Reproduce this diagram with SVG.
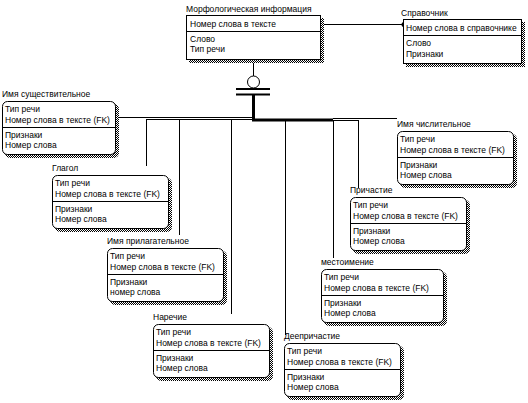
<svg xmlns="http://www.w3.org/2000/svg" width="528" height="403" viewBox="0 0 528 403">
<defs>
<pattern id="hatch" width="2" height="2" patternUnits="userSpaceOnUse">
<rect width="2" height="2" fill="#fff"/>
<rect width="1" height="1" fill="#000"/>
<rect x="1" y="1" width="1" height="1" fill="#000"/>
</pattern>
</defs>
<style>
text{font-family:"Liberation Sans",Arial,sans-serif;font-size:8.5px;fill:#000}
.box{fill:#fff;stroke:#000;stroke-width:1}
.sh{fill:url(#hatch)}
.ln{stroke:#000;stroke-width:1;fill:none}
.thick{stroke:#000;stroke-width:3;fill:none}
</style>
<rect width="528" height="403" fill="#fff"/>
<g id="connectors">
<line class="ln" x1="321" y1="24.5" x2="403" y2="24.5"/>
<circle cx="321" cy="24.5" r="2" fill="#000"/>
<circle cx="404" cy="24.5" r="2.5" fill="#000"/>
<line class="ln" x1="253.5" y1="60" x2="253.5" y2="76"/>
<circle cx="253.5" cy="82" r="6" fill="#fff" stroke="#000"/>
<line x1="236" y1="89" x2="270" y2="89" stroke="#000" stroke-width="2"/>
<line x1="236" y1="94.5" x2="270" y2="94.5" stroke="#000" stroke-width="2"/>
<line class="thick" x1="253.5" y1="95" x2="253.5" y2="121"/>
<line class="ln" x1="116" y1="117.5" x2="254" y2="117.5"/>
<line class="ln" x1="146" y1="119.5" x2="254" y2="119.5"/>
<line class="thick" x1="252" y1="120" x2="333" y2="120"/>
<line class="ln" x1="333" y1="118.5" x2="397" y2="118.5"/>
<line class="ln" x1="333" y1="120.5" x2="359" y2="120.5"/>
<line class="ln" x1="146.5" y1="119.5" x2="146.5" y2="166"/>
<line class="ln" x1="179.5" y1="119.5" x2="179.5" y2="235"/>
<line class="ln" x1="231.5" y1="119.5" x2="231.5" y2="314"/>
<line class="ln" x1="285.5" y1="120" x2="285.5" y2="335"/>
<line class="ln" x1="333.5" y1="120" x2="333.5" y2="258"/>
<line class="ln" x1="358.5" y1="120" x2="358.5" y2="188"/>
</g>
<g id="morph">
<text x="186" y="12">Морфологическая информация</text>
<rect class="sh" x="189" y="18" width="135" height="45"/>
<rect class="box" x="186.5" y="15.5" width="134" height="44"/>
<line class="ln" x1="186.5" y1="31.5" x2="320.5" y2="31.5"/>
<text x="190" y="27">Номер слова в тексте</text>
<text x="190" y="42">Слово</text>
<text x="190" y="52">Тип речи</text>
</g>
<g id="spravochnik">
<text x="401" y="16">Справочник</text>
<rect class="sh" x="406" y="22" width="119" height="45"/>
<rect class="box" x="403.5" y="19.5" width="118" height="44"/>
<line class="ln" x1="403.5" y1="35.5" x2="521.5" y2="35.5"/>
<text x="406" y="31">Номер слова в справочнике</text>
<text x="406" y="46">Слово</text>
<text x="406" y="57">Признаки</text>
</g>
<g id="noun" transform="translate(2,101)">
<text x="0" y="-4">Имя существительное</text>
<rect class="sh" x="3" y="3" width="114" height="54" rx="5"/>
<rect class="box" x="0.5" y="0.5" width="113" height="53" rx="5"/>
<line class="ln" x1="0.5" y1="26.5" x2="113.5" y2="26.5"/>
<text x="3" y="11">Тип речи</text>
<text x="3" y="21.5">Номер слова в тексте (FK)</text>
<text x="3" y="36.5">Признаки</text>
<text x="3" y="47">Номер слова</text>
</g>
<g id="numeral" transform="translate(397,131)">
<text x="0" y="-4">Имя числительное</text>
<rect class="sh" x="3" y="3" width="117" height="54" rx="5"/>
<rect class="box" x="0.5" y="0.5" width="116" height="53" rx="5"/>
<line class="ln" x1="0.5" y1="26.5" x2="116.5" y2="26.5"/>
<text x="3" y="11">Тип речи</text>
<text x="3" y="21.5">Номер слова в тексте (FK)</text>
<text x="3" y="36.5">Признаки</text>
<text x="3" y="47">Номер слова</text>
</g>
<g id="verb" transform="translate(52,175)">
<text x="0" y="-4">Глагол</text>
<rect class="sh" x="3" y="3" width="117" height="54" rx="5"/>
<rect class="box" x="0.5" y="0.5" width="116" height="53" rx="5"/>
<line class="ln" x1="0.5" y1="26.5" x2="116.5" y2="26.5"/>
<text x="3" y="11">Тип речи</text>
<text x="3" y="21.5">Номер слова в тексте (FK)</text>
<text x="3" y="36.5">Признаки</text>
<text x="3" y="47">Номер слова</text>
</g>
<g id="participle" transform="translate(350,197)">
<text x="0" y="-4">Причастие</text>
<rect class="sh" x="3" y="3" width="117" height="54" rx="5"/>
<rect class="box" x="0.5" y="0.5" width="116" height="53" rx="5"/>
<line class="ln" x1="0.5" y1="26.5" x2="116.5" y2="26.5"/>
<text x="3" y="11">Тип речи</text>
<text x="3" y="21.5">Номер слова в тексте (FK)</text>
<text x="3" y="36.5">Признаки</text>
<text x="3" y="47">Номер слова</text>
</g>
<g id="adjective" transform="translate(107,248)">
<text x="0" y="-4">Имя прилагательное</text>
<rect class="sh" x="3" y="3" width="117" height="54" rx="5"/>
<rect class="box" x="0.5" y="0.5" width="116" height="53" rx="5"/>
<line class="ln" x1="0.5" y1="26.5" x2="116.5" y2="26.5"/>
<text x="3" y="11">Тип речи</text>
<text x="3" y="21.5">Номер слова в тексте (FK)</text>
<text x="3" y="36.5">Признаки</text>
<text x="3" y="47">номер слова</text>
</g>
<g id="pronoun" transform="translate(321,269)">
<text x="0" y="-4">местоимение</text>
<rect class="sh" x="3" y="3" width="123" height="54" rx="5"/>
<rect class="box" x="0.5" y="0.5" width="122" height="53" rx="5"/>
<line class="ln" x1="0.5" y1="26.5" x2="122.5" y2="26.5"/>
<text x="3" y="11">Тип речи</text>
<text x="3" y="21.5">Номер слова в тексте (FK)</text>
<text x="3" y="36.5">Признаки</text>
<text x="3" y="47">Номер слова</text>
</g>
<g id="adverb" transform="translate(153,324)">
<text x="0" y="-4">Наречие</text>
<rect class="sh" x="3" y="3" width="117" height="54" rx="5"/>
<rect class="box" x="0.5" y="0.5" width="116" height="53" rx="5"/>
<line class="ln" x1="0.5" y1="26.5" x2="116.5" y2="26.5"/>
<text x="3" y="11">Тип речи</text>
<text x="3" y="21.5">Номер слова в тексте (FK)</text>
<text x="3" y="36.5">Признаки</text>
<text x="3" y="47">Номер слова</text>
</g>
<g id="gerund" transform="translate(284,343)">
<text x="0" y="-4">Деепричастие</text>
<rect class="sh" x="3" y="3" width="117" height="54" rx="5"/>
<rect class="box" x="0.5" y="0.5" width="116" height="53" rx="5"/>
<line class="ln" x1="0.5" y1="26.5" x2="116.5" y2="26.5"/>
<text x="3" y="11">Тип речи</text>
<text x="3" y="21.5">Номер слова в тексте (FK)</text>
<text x="3" y="36.5">Признаки</text>
<text x="3" y="47">Номер слова</text>
</g>
</svg>
